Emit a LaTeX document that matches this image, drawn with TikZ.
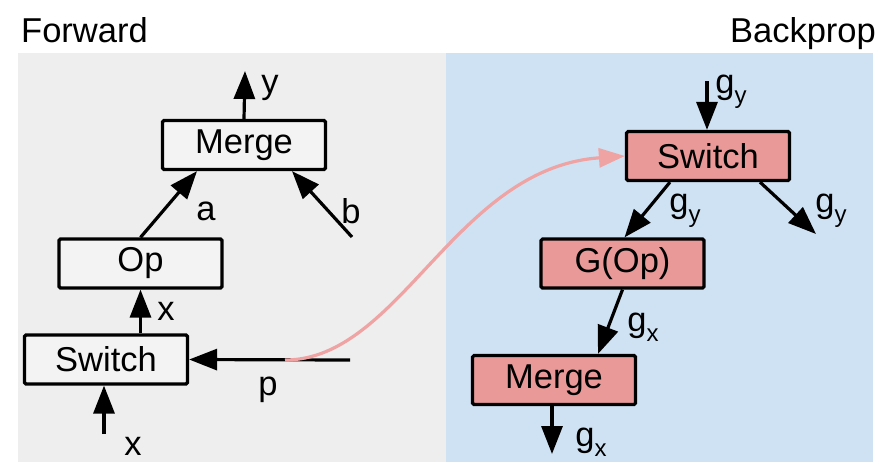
\documentclass[tikz,border=0pt]{standalone}
\usepackage{fontspec}
\setmainfont{Liberation Sans}
\usetikzlibrary{arrows.meta,calc}
\definecolor{panelgray}{HTML}{EEEEEE}
\definecolor{panelblue}{HTML}{CFE2F3}
\definecolor{boxpink}{HTML}{EA9999}
\definecolor{curvepink}{HTML}{EFA3A3}
\definecolor{boxlight}{HTML}{F3F3F3}
\newcommand\gsub[1]{g\raisebox{-0.28em}{\fontsize{24}{24}\selectfont #1}}
\begin{document}
\begin{tikzpicture}[x=1pt,y=-1pt,
  fwdbox/.style={draw=black,line width=3.2pt,fill=boxlight,rounded corners=1.5pt,
     minimum width=163pt,minimum height=49pt,inner sep=0pt,font=\fontsize{34.5}{34.5}\selectfont},
  bwdbox/.style={fwdbox,fill=boxpink},
  arr/.style={line width=3.2pt,-{Triangle[length=28pt,width=21pt]}},
  lbl/.style={inner sep=0pt,font=\fontsize{34.5}{34.5}\selectfont},
  title/.style={inner sep=0pt,font=\fontsize{34.5}{34.5}\selectfont}]
\useasboundingbox (0,0) rectangle (885,472);
\fill[panelgray] (18,53) rectangle (446,462);
\fill[panelblue] (446,53) rectangle (873,462);
\node[title,anchor=base west] (tfwd) at (21,42) {Forward};
\node[title,anchor=base east] (tbwd) at (876,42) {Backprop};
% forward
\node[fwdbox] (fmerge) at (244,145) {Merge};
\node[fwdbox] (fop) at (140.5,263.5) {Op};
\node[fwdbox] (fswitch) at (106,359.5) {Switch};
\coordinate (yout) at (245,71);
\coordinate (bin) at (352,237);
\coordinate (xin) at (104,434);
\coordinate (pin) at (350,360);
\coordinate (pstart) at (285,360);
\draw[arr] (fmerge.north) -- (yout);
\draw[arr] (fop.north) -- ($(fmerge.south)+(-47,0)$);
\draw[arr] (bin) -- ($(fmerge.south)+(48,0)$);
\draw[arr] (fop.south |- fswitch.north) -- (fop.south);
\draw[arr] (xin) -- (fswitch.south -| xin);
\draw[arr] (pin) -- (fswitch.east);
\node[lbl] (ly) at (270,88) {y};
\node[lbl] (la) at (206,211) {a};
\node[lbl] (lb) at (351,211) {b};
\node[lbl] (lx1) at (166,311) {x};
\node[lbl] (lx2) at (133,446) {x};
\node[lbl] (lp) at (268,390) {p};
% backprop
\node[bwdbox] (bswitch) at (708,156) {Switch};
\node[bwdbox] (bgop) at (622.5,263.5) {G(Op)};
\node[bwdbox] (bmerge) at (554,380) {Merge};
\draw[line width=3.2pt,curvepink,-{Triangle[length=26pt,width=19pt]}]
  (pstart) .. controls (400,360) and (455,168) .. (bswitch.west);
\coordinate (gyin) at (707,81);
\coordinate (gyout) at (816,234);
\coordinate (gxout) at (552,454);
\draw[arr] (gyin) -- (bswitch.north -| gyin);
\draw[arr] ($(bswitch.south)+(-38,0)$) -- ($(bgop.north)+(2,0)$);
\draw[arr] ($(bswitch.south)+(52,0)$) -- (gyout);
\draw[arr] (bgop.south) -- ($(bmerge.north)+(44,0)$);
\draw[arr] (bmerge.south -| gxout) -- (gxout);
\node[lbl] (lg1) at (731,92) {\gsub{y}};
\node[lbl] (lg2) at (685,211) {\gsub{y}};
\node[lbl] (lg3) at (831,211) {\gsub{y}};
\node[lbl] (lg4) at (643,327) {\gsub{x}};
\node[lbl] (lg5) at (591,442) {\gsub{x}};
\end{tikzpicture}
\end{document}
